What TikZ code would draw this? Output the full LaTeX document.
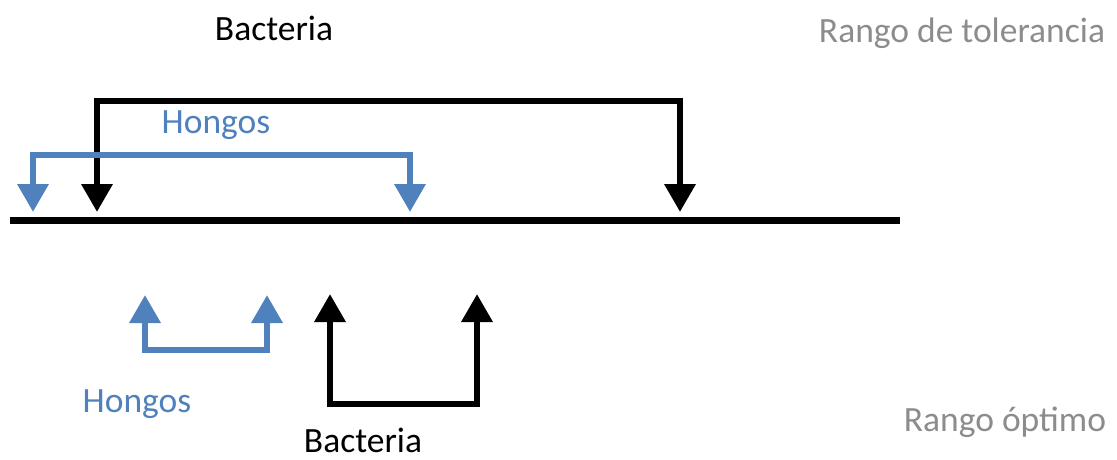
\documentclass[tikz,border=0pt]{standalone}
\usepackage{fontspec}
\setmainfont{Carlito}
\usetikzlibrary{arrows.meta}
\definecolor{hblue}{RGB}{79,129,189}
\definecolor{lgray}{RGB}{140,140,140}
\tikzset{
  rangearrow/.style={line width=6.5pt, line join=miter, {Triangle[width=30pt,length=28pt]}-{Triangle[width=30pt,length=28pt]}},
  lbl/.style={inner sep=0pt, font=\fontsize{35.5}{40}\selectfont},
}
\begin{document}
\begin{tikzpicture}[x=1pt,y=-1pt]
\useasboundingbox (0,0) rectangle (1117,459);
% baseline
\coordinate (axL) at (10,220);
\coordinate (axR) at (900,220);
\draw[line width=7pt] (axL) -- (axR);
% top black (bacteria tolerance)
\coordinate (tb1) at (97,212);
\coordinate (tb2) at (680,212);
\draw[rangearrow, black] (tb1) -- (97,101) -- (680,101) -- (tb2);
% top blue (hongos tolerance)
\coordinate (tf1) at (33,212);
\coordinate (tf2) at (410,212);
\draw[rangearrow, hblue] (tf1) -- (33,155) -- (410,155) -- (tf2);
% bottom blue (hongos optimum)
\coordinate (of1) at (145,295);
\coordinate (of2) at (267,295);
\draw[rangearrow, hblue] (of1) -- (145,350) -- (267,350) -- (of2);
% bottom black (bacteria optimum)
\coordinate (ob1) at (330,294);
\coordinate (ob2) at (477,294);
\draw[rangearrow, black] (ob1) -- (330,404) -- (477,404) -- (ob2);
% labels
\node[lbl] (bactT) at (274,28) {Bacteria};
\node[lbl, text=hblue] (hongT) at (216,125) {Hongos};
\node[lbl, text=lgray] (tol) at (962,33) {Rango de tolerancia};
\node[lbl, text=hblue] (hongB) at (137,404) {Hongos};
\node[lbl] (bactB) at (363,440) {Bacteria};
\node[lbl, text=lgray] (opt) at (1005,422) {Rango óptimo};
\end{tikzpicture}
\end{document}
